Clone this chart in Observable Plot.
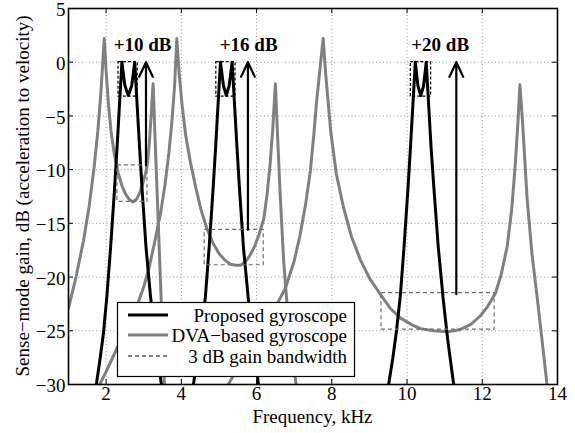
<!DOCTYPE html>
<html><head><meta charset="utf-8">
<script src="https://cdn.jsdelivr.net/npm/d3@7"></script>
<script src="https://cdn.jsdelivr.net/npm/@observablehq/plot@0.6"></script>
<style>
body{margin:0;background:#fff;}
#chart{position:relative;width:575px;height:433px;}
#chart svg{display:block;}
</style></head><body><div id="chart"></div>
<script>
// ---- data: [frequency kHz, gain dB] ----
const proposed1 = [[1.74,-30],[1.84,-27.6],[1.93,-25.2],[2.02,-21.8],[2.12,-17.2],[2.22,-12],[2.29,-8],[2.35,-4.3],[2.42,0],[2.5,-2.2],[2.59,-3.1],[2.68,-2.2],[2.76,0],[2.83,-4.3],[2.89,-8],[2.96,-12],[3.06,-17.2],[3.18,-21.8],[3.3,-25.5],[3.47,-30]];
const proposed2 = [[4.32,-30],[4.43,-27.6],[4.54,-25.0],[4.64,-21.8],[4.74,-17.2],[4.84,-12],[4.91,-8],[4.97,-4.3],[5.04,0],[5.12,-2.2],[5.195,-3.1],[5.27,-2.2],[5.35,0],[5.42,-4.3],[5.48,-8],[5.55,-12],[5.65,-17.2],[5.78,-22],[5.9,-25.8],[6.05,-30]];
const proposed3 = [[9.51,-30],[9.62,-27.6],[9.72,-25.0],[9.82,-21.8],[9.92,-17.2],[10.02,-12],[10.09,-8],[10.15,-4.3],[10.22,0],[10.29,-2.2],[10.365,-3.1],[10.44,-2.2],[10.51,0],[10.58,-4.3],[10.64,-8],[10.72,-12],[10.83,-17.2],[10.96,-22],[11.08,-25.8],[11.24,-30]];
const dva1 = [[1.0,-22.9],[1.2,-20.0],[1.4,-16.6],[1.55,-13.4],[1.68,-9.8],[1.78,-6.4],[1.86,-2.9],[1.95,2.2],[2.0,-0.8],[2.06,-3.8],[2.13,-6.4],[2.22,-8.6],[2.32,-10.3],[2.42,-11.5],[2.52,-12.3],[2.62,-12.8],[2.72,-13.0],[2.82,-12.7],[2.9,-12.1],[2.98,-11.2],[3.05,-10.3],[3.1,-9.4],[3.15,-7.5],[3.2,-4.8],[3.25,-2.0],[3.3,-7],[3.36,-12.5],[3.43,-19],[3.49,-24.5],[3.55,-30]];
const dva2 = [[1.83,-30],[2.0,-28.8],[2.2,-27.3],[2.4,-25.8],[2.6,-24.3],[2.83,-22.6],[3.0,-20.9],[3.15,-19.0],[3.3,-16.6],[3.45,-14.0],[3.57,-11.3],[3.67,-8.4],[3.75,-5.5],[3.82,-2.2],[3.88,2.2],[3.94,-1.0],[4.02,-4.0],[4.12,-6.9],[4.24,-9.3],[4.38,-11.6],[4.52,-13.7],[4.68,-15.5],[4.85,-16.9],[5.0,-17.8],[5.15,-18.4],[5.3,-18.8],[5.45,-18.9],[5.57,-18.9],[5.7,-18.6],[5.82,-18.0],[5.94,-17.2],[6.05,-16.2],[6.19,-14.6],[6.28,-12.3],[6.36,-9.5],[6.43,-6.2],[6.5,-2.0],[6.56,-7],[6.63,-12.5],[6.72,-18.5],[6.82,-23],[6.94,-27],[7.05,-30]];
const dva3 = [[5.25,-30],[5.6,-27.8],[6.0,-25.8],[6.4,-23.5],[6.77,-21.0],[7.0,-18.5],[7.15,-16.2],[7.3,-13.3],[7.43,-10.1],[7.52,-6.8],[7.6,-3.5],[7.68,-0.8],[7.77,2.2],[7.84,-1.2],[7.97,-6.4],[8.12,-10.4],[8.31,-13.5],[8.52,-16.2],[8.76,-18.4],[9.0,-20.1],[9.29,-21.6],[9.55,-22.9],[9.82,-23.8],[10.1,-24.4],[10.36,-24.8],[10.7,-25.0],[11.07,-25.1],[11.4,-24.9],[11.7,-24.4],[11.95,-23.6],[12.15,-22.7],[12.35,-21.5],[12.5,-19.8],[12.66,-17.2],[12.78,-13.8],[12.88,-9.4],[12.95,-5.5],[13.0,-2.1],[13.07,-5.5],[13.19,-12.6],[13.32,-17.8],[13.46,-21.9],[13.6,-26.2],[13.72,-30]];

// 3 dB bandwidth boxes: [f1, f2, g1, g2]
const dvaBands = [[2.30,3.10,-9.6,-13.0],[4.62,6.19,-15.6,-18.9],[9.32,12.33,-21.5,-24.9]];
const proposedBands = [[2.33,2.84,0,-3.2],[4.93,5.44,0,-3.2],[10.1,10.64,0,-3.2]];

// gain improvement arrows: [f, from dB, to dB]
const arrowsData = [[3.06,-9.6,0],[5.77,-15.6,0],[11.31,-21.6,0]];
const gainLabels = ["+10 dB","+16 dB","+20 dB"];
const labelPos = [[2.97,1.65],[5.79,1.65],[10.88,1.65]];

const xTicks = [2,4,6,8,10,12,14];
const yTicks = [-30,-25,-20,-15,-10,-5,0,5];
const legendNames = ["Proposed gyroscope","DVA\u2212based gyroscope","3 dB gain bandwidth"];
const xLabel = "Frequency, kHz";
const yLabel = "Sense\u2212mode gain, dB (acceleration to velocity)";

// ---- build tables ----
const toRows = (arr, id) => arr.map(([f, g]) => ({f, g, id}));
const propRows = [...toRows(proposed1,"p1"),...toRows(proposed2,"p2"),...toRows(proposed3,"p3")];
const dvaRows = [...toRows(dva1,"d1"),...toRows(dva2,"d2"),...toRows(dva3,"d3")];
const boxRows = b => b.map(([f1,f2,g1,g2]) => ({f1,f2,g1,g2}));
const arrowRows = arrowsData.map(([f,a,b]) => ({f,a,b}));
const labelRows = gainLabels.map((t,i) => ({t, f: labelPos[i][0], g: labelPos[i][1]}));

const W = 575, H = 433, mL = 68, mR = 18, mT = 8, mB = 49;
const pw = W - mL - mR, ph = H - mT - mB, tk = 5;
const font = "'Liberation Serif','Times New Roman',serif";
const fs = 19;

const plot = Plot.plot({
  width: W, height: H,
  marginLeft: mL, marginRight: mR, marginTop: mT, marginBottom: mB,
  style: {fontFamily: font, fontSize: fs + "px", background: "white", color: "black", overflow: "visible"},
  x: {domain: [1, 14], label: null},
  y: {domain: [-30, 5], label: null},
  marks: [
    Plot.gridX(xTicks, {stroke: "#9a9a9a", strokeOpacity: 1, strokeDasharray: "1,2.5"}),
    Plot.gridY(yTicks, {stroke: "#9a9a9a", strokeOpacity: 1, strokeDasharray: "1,2.5"}),
    Plot.line(dvaRows, {x: "f", y: "g", z: "id", stroke: "#808080", strokeWidth: 3, strokeLinejoin: "round", clip: true}),
    Plot.line(propRows, {x: "f", y: "g", z: "id", stroke: "black", strokeWidth: 3, strokeLinejoin: "round", clip: true}),
    Plot.rect(boxRows(dvaBands), {x1: "f1", x2: "f2", y1: "g1", y2: "g2", fill: "none", stroke: "#6e6e6e", strokeWidth: 1.2, strokeDasharray: "4,3"}),
    Plot.rect(boxRows(proposedBands), {x1: "f1", x2: "f2", y1: "g1", y2: "g2", fill: "none", stroke: "black", strokeWidth: 1.2, strokeDasharray: "3,2"}),
    Plot.arrow(arrowRows, {x1: "f", x2: "f", y1: "a", y2: "b", stroke: "black", strokeWidth: 2.2, headLength: 11, headAngle: 50}),
    Plot.text(labelRows, {x: "f", y: "g", text: "t", fontWeight: "bold", fontSize: fs, fill: "black"}),
    // inward ticks on all four sides
    Plot.ruleX(xTicks, {x: d => d, insetTop: ph - tk, stroke: "black"}),
    Plot.ruleX(xTicks, {x: d => d, insetBottom: ph - tk, stroke: "black"}),
    Plot.ruleY(yTicks, {y: d => d, insetRight: pw - tk, stroke: "black"}),
    Plot.ruleY(yTicks, {y: d => d, insetLeft: pw - tk, stroke: "black"}),
    Plot.frame({stroke: "black", strokeWidth: 1.6}),
    Plot.axisX(xTicks, {tickSize: 0, tickPadding: 2, fontSize: fs, label: null}),
    Plot.axisY(yTicks, {tickSize: 0, tickPadding: 3, fontSize: fs, label: null, dy: 1.5})
  ]
});
document.getElementById("chart").appendChild(plot);

const svg = d3.select(plot);
svg.append("text").attr("x", mL + pw / 2).attr("y", 423).attr("text-anchor", "middle")
  .attr("font-family", font).attr("font-size", fs).attr("fill", "black").text(xLabel);
svg.append("text").attr("transform", `translate(29,${mT + ph / 2}) rotate(-90)`).attr("text-anchor", "middle")
  .attr("font-family", font).attr("font-size", fs).attr("fill", "black").text(yLabel);

// legend (inside the axes, lower left)
const lg = svg.append("g").attr("font-family", font).attr("font-size", fs);
lg.append("rect").attr("x", 117.5).attr("y", 302.5).attr("width", 237).attr("height", 74)
  .attr("fill", "white").attr("stroke", "black").attr("stroke-width", 1.2);
const rowsY = [315, 335, 356];
const swatch = [
  {stroke: "black", w: 3, dash: null},
  {stroke: "#808080", w: 3, dash: null},
  {stroke: "#555", w: 1.5, dash: "4,3"}
];
legendNames.forEach((name, i) => {
  lg.append("line").attr("x1", 128).attr("x2", 168).attr("y1", rowsY[i]).attr("y2", rowsY[i])
    .attr("stroke", swatch[i].stroke).attr("stroke-width", swatch[i].w).attr("stroke-dasharray", swatch[i].dash);
  lg.append("text").attr("x", 347).attr("y", rowsY[i]).attr("dy", "0.35em").attr("text-anchor", "end")
    .attr("fill", "black").text(name);
});
</script></body></html>
